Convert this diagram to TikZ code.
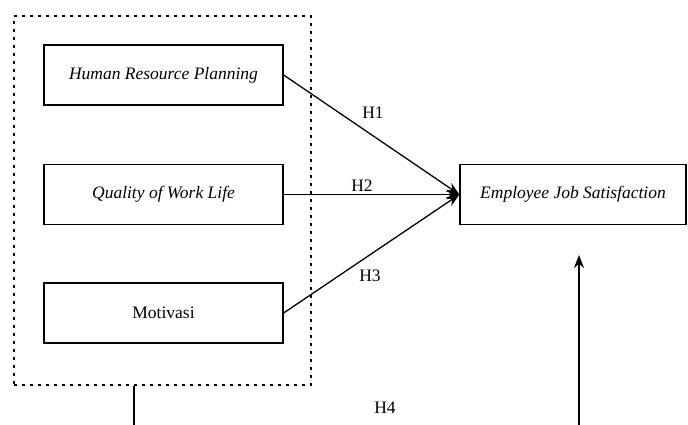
\documentclass[tikz,border=0pt]{standalone}
\usepackage{fontspec}
\setmainfont{Liberation Serif}
\usetikzlibrary{arrows.meta}

\begin{document}
\begin{tikzpicture}[x=1pt, y=-1pt, >={Stealth[length=13pt,width=10pt]}, line width=1.3pt,
        font=\fontsize{17.5}{21}\selectfont]
    \tikzset{varbox/.style={draw, minimum width=239pt, minimum height=60pt, inner sep=0pt}}
    \useasboundingbox (0,0) rectangle (688,425);

    \node[draw, line width=2.8pt, dash pattern=on 2.8pt off 5.2pt,
        minimum width=297pt, minimum height=369pt] (grp) at (162.5,200.5) {};

    \node[varbox] (hrp) at (163.5,75) {\textit{Human Resource Planning}};
    \node[varbox] (qwl) at (163.5,194.5) {\textit{Quality of Work Life}};
    \node[varbox] (mot) at (163.5,313) {Motivasi};
    \node[varbox, minimum width=226pt] (ejs) at (573,194.5) {\textit{Employee Job Satisfaction}};

    \draw[->] (hrp.east) -- (ejs.west);
    \draw[->] (qwl.east) -- (ejs.west);
    \draw[->] (mot.east) -- (ejs.west);
    \node (h1) at (373,113) {H1};
    \node (h2) at (362,186) {H2};
    \node (h3) at (370,276) {H3};
    \node (h4) at (385,408) {H4};

    \coordinate (lowleft) at (134,425);
    \coordinate (lowright) at (579,425);
    \coordinate (tipright) at (579,255);
    \draw (grp.south -| lowleft) -- (lowleft);
    \draw[->] (lowright) -- (tipright);
\end{tikzpicture}
\end{document}
